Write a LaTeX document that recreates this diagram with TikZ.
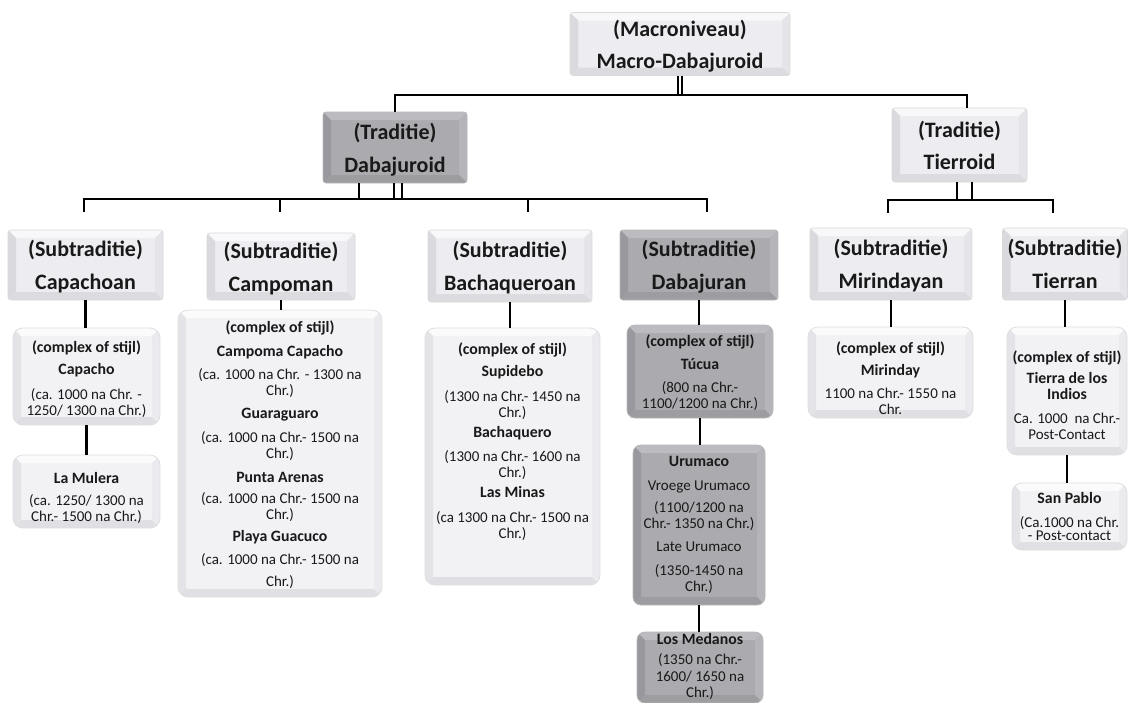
\documentclass[tikz,border=0pt]{standalone}
\usepackage{fontspec}
\setmainfont{Carlito}
\usetikzlibrary{shadows}
\definecolor{lC}{RGB}{237,237,241}
\definecolor{lT}{RGB}{248,248,250}
\definecolor{lL}{RGB}{217,217,222}
\definecolor{lR}{RGB}{229,229,233}
\definecolor{lB}{RGB}{219,219,224}
\definecolor{dC}{RGB}{170,170,175}
\definecolor{dT}{RGB}{187,187,192}
\definecolor{dL}{RGB}{152,152,158}
\definecolor{dR}{RGB}{180,180,185}
\definecolor{dB}{RGB}{156,156,161}
\definecolor{cC}{RGB}{242,242,245}
\definecolor{cT}{RGB}{251,251,252}
\definecolor{cL}{RGB}{228,228,232}
\definecolor{cR}{RGB}{235,235,239}
\definecolor{cB}{RGB}{224,224,228}
\newcommand\bevfill[5]{%
\fill[#1,sharp corners] (path picture bounding box.south west) rectangle (path picture bounding box.north east);
\fill[#2,sharp corners] (path picture bounding box.north west) -- (path picture bounding box.north east) -- ([xshift=-8pt,yshift=-8pt]path picture bounding box.north east) -- ([xshift=8pt,yshift=-8pt]path picture bounding box.north west) -- cycle;
\fill[#3,sharp corners] (path picture bounding box.north west) -- ([xshift=8pt,yshift=-8pt]path picture bounding box.north west) -- ([xshift=8pt,yshift=8pt]path picture bounding box.south west) -- (path picture bounding box.south west) -- cycle;
\fill[#4,sharp corners] (path picture bounding box.north east) -- ([xshift=-8pt,yshift=-8pt]path picture bounding box.north east) -- ([xshift=-8pt,yshift=8pt]path picture bounding box.south east) -- (path picture bounding box.south east) -- cycle;
\fill[#5,sharp corners] (path picture bounding box.south west) -- ([xshift=8pt,yshift=8pt]path picture bounding box.south west) -- ([xshift=-8pt,yshift=8pt]path picture bounding box.south east) -- (path picture bounding box.south east) -- cycle;
}
\newcommand\bt[1]{{\fontsize{15.8}{16}\selectfont\bfseries #1}}
\tikzset{
  hd/.style={font=\fontsize{22}{26}\selectfont\bfseries, align=center, text=black!90, text depth=0pt},
  tx/.style={font=\fontsize{15}{16}\selectfont, align=center, inner sep=0pt, text=black!90},
  lbox/.style={hd, draw=gray!30, line width=0.6pt, rounded corners=3pt, inner sep=0pt,
    path picture={\bevfill{lC}{lT}{lL}{lR}{lB}}},
  dbox/.style={hd, draw=gray!55, line width=0.6pt, rounded corners=3pt, inner sep=0pt,
    path picture={\bevfill{dC}{dT}{dL}{dR}{dB}}},
  cbox/.style={draw=gray!25, line width=0.8pt, rounded corners=10pt, inner sep=0pt,
    path picture={\bevfill{cC}{cT}{cL}{cR}{cB}}},
  cdbox/.style={draw=gray!55, line width=0.8pt, rounded corners=8pt, inner sep=0pt,
    path picture={\bevfill{dC}{dT}{dL}{dR}{dB}}},
  conn/.style={line width=2.8pt, black},
  bus/.style={line width=2.2pt, black}
}
\begin{document}
\begin{tikzpicture}[x=1pt,y=-1pt]
\fill[white] (0,0) rectangle (1130,702);
\useasboundingbox (0,0) rectangle (1130,702);

% level 0 and 1
\node[lbox, minimum width=220pt, minimum height=63pt] (macro) at (680,44) {(Macroniveau)\\[6pt]Macro-Dabajuroid};
\node[dbox, minimum width=144pt, minimum height=71pt] (dabaj) at (395,147.5) {(Traditie)\\[7pt]Dabajuroid};
\node[lbox, minimum width=135pt, minimum height=74pt] (tierroid) at (959.5,145) {(Traditie)\\[6pt]Tierroid};

% level 2
\node[lbox, minimum width=155pt, minimum height=70pt] (capachoan) at (85.5,265) {(Subtraditie)\\[7pt]Capachoan};
\node[lbox, minimum width=148pt, minimum height=67pt] (campoman) at (281,266.5) {(Subtraditie)\\[7pt]Campoman};
\node[lbox, minimum width=164pt, minimum height=72pt] (bachaq) at (510,266) {(Subtraditie)\\[7pt]Bachaqueroan};
\node[dbox, minimum width=158pt, minimum height=70pt] (dabajuran) at (699,265) {(Subtraditie)\\[7pt]Dabajuran};
\node[lbox, minimum width=162pt, minimum height=72pt] (mirind) at (891,264) {(Subtraditie)\\[7pt]Mirindayan};
\node[lbox, minimum width=125pt, minimum height=72pt] (tierran) at (1065,264) {(Subtraditie)\\[7pt]Tierran};

% level 3 boxes
\node[cbox, minimum width=147pt, minimum height=97pt] (capacho) at (86.5,376.5) {};
\node[tx] (capachoT) at (86.5,379) {\bt{(complex of stijl)}\\[6pt]\bt{Capacho}\\[9pt](ca. 1000 na Chr. -\\1250/ 1300 na Chr.)};
\node[cbox, minimum width=147pt, minimum height=73pt] (lamulera) at (86.5,491.5) {};
\node[tx] (lamuleraT) at (86.5,498) {\bt{La Mulera}\\[6pt](ca. 1250/ 1300 na\\Chr.- 1500 na Chr.)};

\node[cbox, minimum width=204pt, minimum height=287pt] (campcx) at (280,453.5) {};
\node[tx] (campcxT) at (280,455) {\bt{(complex of stijl)}\\[8pt]\bt{Campoma Capacho}\\[7pt](ca. 1000 na Chr. - 1300 na\\Chr.)\\[7pt]\bt{Guaraguaro}\\[8pt](ca. 1000 na Chr.- 1500 na\\Chr.)\\[8pt]\bt{Punta Arenas}\\[5pt](ca. 1000 na Chr.- 1500 na\\Chr.)\\[6pt]\bt{Playa Guacuco}\\[7pt](ca. 1000 na Chr.- 1500 na\\[6pt]Chr.)};

\node[cbox, minimum width=175pt, minimum height=257pt] (bachcx) at (512.5,456.5) {};
\node[tx] (bachcxT) at (512.5,441.5) {\bt{(complex of stijl)}\\[6pt]\bt{Supidebo}\\[9pt](1300 na Chr.- 1450 na\\Chr.)\\[4pt]\bt{Bachaquero}\\[8pt](1300 na Chr.- 1600 na\\Chr.)\\[4pt]\bt{Las Minas}\\[9pt](ca 1300 na Chr.- 1500 na\\Chr.)};

\node[cdbox, minimum width=146pt, minimum height=93pt] (tucua) at (700,371.5) {};
\node[tx] (tucuaT) at (700,372.5) {\bt{(complex of stijl)}\\[7pt]\bt{Túcua}\\[7pt](800 na Chr.-\\1100/1200 na Chr.)};
\node[cdbox, minimum width=132pt, minimum height=160pt] (urumaco) at (699,525) {};
\node[tx] (urumacoT) at (699,525) {\bt{Urumaco}\\[8pt]Vroege Urumaco\\[6pt](1100/1200 na\\Chr.- 1350 na Chr.)\\[7pt]Late Urumaco\\[8pt](1350-1450 na\\Chr.)};
\node[cdbox, minimum width=126pt, minimum height=71pt] (losmed) at (700,667.5) {};
\node[tx] (losmedT) at (700,666.5) {\bt{Los Medanos}\\[4pt](1350 na Chr.-\\[1pt]1600/ 1650 na\\Chr.)};

\node[cbox, minimum width=165pt, minimum height=91pt] (mirinday) at (890.5,372.5) {};
\node[tx] (mirindayT) at (890.5,378) {\bt{(complex of stijl)}\\[6pt]\bt{Mirinday}\\[7pt]1100 na Chr.- 1550 na\\Chr.};
\node[cbox, minimum width=120pt, minimum height=128pt] (tierra) at (1067,391) {};
\node[tx] (tierraT) at (1067,395) {\bt{(complex of stijl)}\\[5pt]\bt{Tierra de los}\\\bt{Indios}\\[8pt]Ca. 1000\ \ na Chr.-\\Post-Contact};
\node[cbox, minimum width=115pt, minimum height=67pt] (sanpablo) at (1069.5,516.5) {};
\node[tx] (sanpabloT) at (1069.5,516.5) {\bt{San Pablo}\\[8pt](Ca.1000 na Chr.\\[-3pt]- Post-contact};

% connectors: top
\draw[bus] ([xshift=-2pt]macro.south) -- ++(0,19.5);
\draw[bus] ([xshift=2pt]macro.south) -- ++(0,19.5);
\draw[bus] (dabaj.north) -- ++(0,-17) -| ([xshift=7.5pt]tierroid.north);

% Dabajuroid bus
\foreach \dx in {-36,-1,7} \draw[bus] ([xshift=\dx pt]dabaj.south) -- ++(0,16);
\coordinate (sA) at (84,212);
\coordinate (sB) at (280,212);
\coordinate (sC) at (528,212);
\coordinate (sD) at (707,212);
\draw[bus] (sA) -- ++(0,-13) -| (sD);
\draw[bus] (sB) -- ++(0,-13);
\draw[bus] (sC) -- ++(0,-13);

% Tierroid bus
\draw[bus] ([xshift=-2.5pt]tierroid.south) -- ++(0,18);
\draw[bus] ([xshift=12.5pt]tierroid.south) -- ++(0,18);
\coordinate (tA) at (888,213);
\coordinate (tB) at (1053,213);
\draw[bus] (tA) -- ++(0,-13) -| (tB);

% vertical links
\draw[conn] (capachoan.south) -- (capachoan.south |- capacho.north);
\draw[conn] (capacho.south) -- (capacho.south |- lamulera.north);
\draw[bus] (campoman.south) -- (campoman.south |- campcx.north);
\draw[conn] (bachaq.south) -- (bachaq.south |- bachcx.north);
\draw[conn] (dabajuran.south) -- (dabajuran.south |- tucua.north);
\draw[conn] (tucua.south) -- (tucua.south |- urumaco.north);
\draw[conn] (urumaco.south) -- (urumaco.south |- losmed.north);
\draw[conn] (mirind.south) -- (mirind.south |- mirinday.north);
\draw[conn] (tierran.south) -- (tierran.south |- tierra.north);
\draw[conn] (tierra.south) -- (tierra.south |- sanpablo.north);
\end{tikzpicture}
\end{document}
